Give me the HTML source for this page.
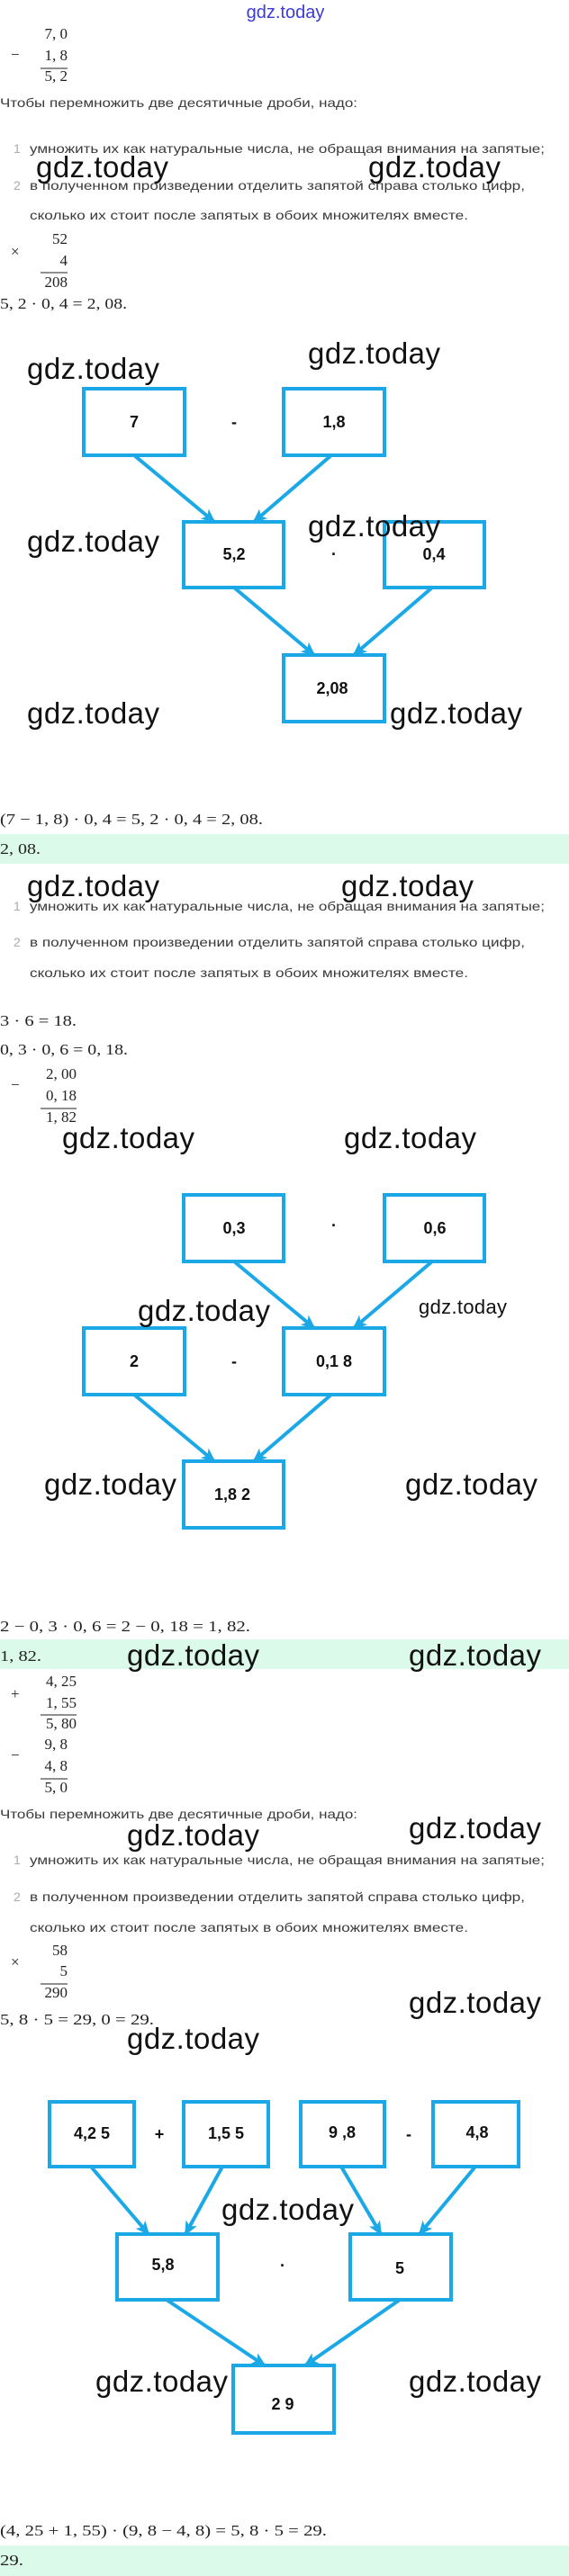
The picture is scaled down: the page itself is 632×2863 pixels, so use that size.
<!DOCTYPE html>
<html><head><meta charset="utf-8"><style>
html,body{margin:0;padding:0;background:#fff;width:632px;height:2863px;overflow:hidden}
svg{display:block}
.m{font-family:"Liberation Serif",serif;font-size:17px;fill:#222}
.r{font-family:"Liberation Sans","Noto Sans CJK SC",sans-serif;font-size:14px;fill:#3a3a3a}
.n{font-family:"Liberation Sans",sans-serif;font-size:14px;fill:#aaa}
.w{font-family:"Liberation Sans",sans-serif;font-size:33px;fill:#111}
.b{font-family:"Liberation Sans",sans-serif;font-size:18px;font-weight:bold;fill:#111;text-anchor:middle}
.o{font-family:"Liberation Sans",sans-serif;font-size:18px;font-weight:bold;fill:#111;text-anchor:middle}
rect.x{fill:#fff;stroke:#1ba8e6;stroke-width:4}
line.a{stroke:#1ba8e6;stroke-width:4;marker-end:url(#ah)}
</style></head><body>
<svg width="632" height="2863" viewBox="0 0 632 2863" xmlns="http://www.w3.org/2000/svg">
<defs><marker id="ah" markerUnits="userSpaceOnUse" markerWidth="16" markerHeight="14" refX="14" refY="7" orient="auto"><path d="M0,0 L16,7 L0,14 L4,7 z" fill="#1ba8e6"/></marker></defs>

<!-- green bands -->
<rect x="0" y="927" width="632" height="33" fill="#dcfaea"/>
<rect x="0" y="1822" width="632" height="33" fill="#dcfaea"/>
<rect x="0" y="2829" width="632" height="34" fill="#dcfaea"/>

<!-- Section 1 -->
<text x="317" y="20" font-family="Liberation Sans,sans-serif" font-size="20" fill="#3b3bd6" text-anchor="middle">gdz.today</text>
<text class="m" x="12" y="66">−</text>
<text class="m" x="75" y="43" text-anchor="end">7, 0</text>
<text class="m" x="75" y="67" text-anchor="end">1, 8</text>
<line x1="45" y1="76" x2="75" y2="76" stroke="#222" stroke-width="1"/>
<text class="m" x="75" y="90" text-anchor="end">5, 2</text>
<text class="r" x="0" y="119" textLength="397" lengthAdjust="spacingAndGlyphs">Чтобы перемножить две десятичные дроби, надо:</text>
<text class="n" x="15" y="170">1</text>
<text class="r" x="33" y="170" textLength="572" lengthAdjust="spacingAndGlyphs">умножить их как натуральные числа, не обращая внимания на запятые;</text>
<text class="n" x="15" y="211">2</text>
<text class="r" x="33" y="211" textLength="550" lengthAdjust="spacingAndGlyphs">в полученном произведении отделить запятой справа столько цифр,</text>
<text class="r" x="33" y="244" textLength="487" lengthAdjust="spacingAndGlyphs">сколько их стоит после запятых в обоих множителях вместе.</text>
<text class="w" x="40" y="197" textLength="147">gdz.today</text>
<text class="w" x="409" y="197" textLength="147">gdz.today</text>
<text class="m" x="12" y="285">×</text>
<text class="m" x="75" y="271" text-anchor="end">52</text>
<text class="m" x="75" y="295" text-anchor="end">4</text>
<line x1="45" y1="303" x2="75" y2="303" stroke="#222" stroke-width="1"/>
<text class="m" x="75" y="319" text-anchor="end">208</text>
<text class="m" x="0" y="343" textLength="141" lengthAdjust="spacingAndGlyphs">5, 2 · 0, 4 = 2, 08.</text>

<!-- Diagram 1 -->
<text class="w" x="30" y="421" textLength="147">gdz.today</text>
<text class="w" x="342" y="404" textLength="147">gdz.today</text>
<text class="w" x="30" y="613" textLength="147">gdz.today</text>
<text class="w" x="30" y="804" textLength="147">gdz.today</text>
<text class="w" x="433" y="804" textLength="147">gdz.today</text>
<line class="a" x1="149" y1="506" x2="238" y2="580"/>
<line class="a" x1="368" y1="506" x2="282" y2="580"/>
<line class="a" x1="260" y1="653" x2="349" y2="728"/>
<line class="a" x1="480" y1="653" x2="393" y2="728"/>
<rect class="x" x="93" y="432" width="112" height="74"/>
<rect class="x" x="315" y="432" width="112" height="74"/>
<rect class="x" x="204" y="580" width="111" height="73"/>
<rect class="x" x="427" y="580" width="111" height="73"/>
<rect class="x" x="315" y="728" width="112" height="74"/>
<text class="w" x="342" y="596" textLength="147">gdz.today</text>
<text class="b" x="149" y="475">7</text>
<text class="b" x="371" y="475">1,8</text>
<text class="b" x="260" y="622">5,2</text>
<text class="b" x="482" y="622">0,4</text>
<text class="b" x="369" y="771">2,08</text>
<text class="o" x="260" y="475">-</text>
<text class="o" x="371" y="622">·</text>

<!-- Section 2 -->
<text class="m" x="0" y="916" textLength="292" lengthAdjust="spacingAndGlyphs">(7 − 1, 8) · 0, 4 = 5, 2 · 0, 4 = 2, 08.</text>
<text class="m" x="0" y="949" textLength="45" lengthAdjust="spacingAndGlyphs">2, 08.</text>
<text class="w" x="30" y="996" textLength="147">gdz.today</text>
<text class="w" x="379" y="996" textLength="147">gdz.today</text>
<text class="n" x="15" y="1012">1</text>
<text class="r" x="33" y="1012" textLength="572" lengthAdjust="spacingAndGlyphs">умножить их как натуральные числа, не обращая внимания на запятые;</text>
<text class="n" x="15" y="1052">2</text>
<text class="r" x="33" y="1052" textLength="550" lengthAdjust="spacingAndGlyphs">в полученном произведении отделить запятой справа столько цифр,</text>
<text class="r" x="33" y="1086" textLength="487" lengthAdjust="spacingAndGlyphs">сколько их стоит после запятых в обоих множителях вместе.</text>
<text class="m" x="0" y="1140" textLength="85" lengthAdjust="spacingAndGlyphs">3 · 6 = 18.</text>
<text class="m" x="0" y="1172" textLength="142" lengthAdjust="spacingAndGlyphs">0, 3 · 0, 6 = 0, 18.</text>
<text class="m" x="12" y="1211">−</text>
<text class="m" x="85" y="1199" text-anchor="end">2, 00</text>
<text class="m" x="85" y="1223" text-anchor="end">0, 18</text>
<line x1="45" y1="1232" x2="85" y2="1232" stroke="#222" stroke-width="1"/>
<text class="m" x="85" y="1247" text-anchor="end">1, 82</text>

<!-- Diagram 2 -->
<text class="w" x="69" y="1276" textLength="147">gdz.today</text>
<text class="w" x="382" y="1276" textLength="147">gdz.today</text>
<line class="a" x1="260" y1="1402" x2="349" y2="1476"/>
<line class="a" x1="480" y1="1402" x2="393" y2="1476"/>
<line class="a" x1="149" y1="1550" x2="238" y2="1624"/>
<line class="a" x1="368" y1="1550" x2="282" y2="1624"/>
<rect class="x" x="204" y="1328" width="111" height="74"/>
<rect class="x" x="427" y="1328" width="111" height="74"/>
<rect class="x" x="93" y="1476" width="112" height="74"/>
<rect class="x" x="315" y="1476" width="112" height="74"/>
<rect class="x" x="204" y="1624" width="111" height="74"/>
<text class="w" x="153" y="1468" textLength="147">gdz.today</text>
<text x="465" y="1460" font-family="Liberation Sans,sans-serif" font-size="22" fill="#111" textLength="98">gdz.today</text>
<text class="w" x="49" y="1661" textLength="147">gdz.today</text>
<text class="w" x="450" y="1661" textLength="147">gdz.today</text>
<text class="b" x="260" y="1371">0,3</text>
<text class="b" x="483" y="1371">0,6</text>
<text class="b" x="149" y="1519">2</text>
<text class="b" x="371" y="1519">0,1 8</text>
<text class="b" x="258" y="1667">1,8 2</text>
<text class="o" x="371" y="1368">·</text>
<text class="o" x="260" y="1519">-</text>

<!-- Section 3 -->
<text class="m" x="0" y="1813" textLength="278" lengthAdjust="spacingAndGlyphs">2 − 0, 3 · 0, 6 = 2 − 0, 18 = 1, 82.</text>
<text class="m" x="0" y="1846" textLength="46" lengthAdjust="spacingAndGlyphs">1, 82.</text>
<text class="w" x="141" y="1851" textLength="147">gdz.today</text>
<text class="w" x="454" y="1851" textLength="147">gdz.today</text>
<text class="m" x="12" y="1888">+</text>
<text class="m" x="85" y="1874" text-anchor="end">4, 25</text>
<text class="m" x="85" y="1898" text-anchor="end">1, 55</text>
<line x1="45" y1="1906" x2="85" y2="1906" stroke="#222" stroke-width="1"/>
<text class="m" x="85" y="1921" text-anchor="end">5, 80</text>
<text class="m" x="12" y="1956">−</text>
<text class="m" x="75" y="1944" text-anchor="end">9, 8</text>
<text class="m" x="75" y="1968" text-anchor="end">4, 8</text>
<line x1="45" y1="1977" x2="75" y2="1977" stroke="#222" stroke-width="1"/>
<text class="m" x="75" y="1992" text-anchor="end">5, 0</text>
<text class="r" x="0" y="2021" textLength="397" lengthAdjust="spacingAndGlyphs">Чтобы перемножить две десятичные дроби, надо:</text>
<text class="w" x="141" y="2051" textLength="147">gdz.today</text>
<text class="w" x="454" y="2043" textLength="147">gdz.today</text>
<text class="n" x="15" y="2072">1</text>
<text class="r" x="33" y="2072" textLength="572" lengthAdjust="spacingAndGlyphs">умножить их как натуральные числа, не обращая внимания на запятые;</text>
<text class="n" x="15" y="2113">2</text>
<text class="r" x="33" y="2113" textLength="550" lengthAdjust="spacingAndGlyphs">в полученном произведении отделить запятой справа столько цифр,</text>
<text class="r" x="33" y="2147" textLength="487" lengthAdjust="spacingAndGlyphs">сколько их стоит после запятых в обоих множителях вместе.</text>
<text class="m" x="12" y="2186">×</text>
<text class="m" x="75" y="2173" text-anchor="end">58</text>
<text class="m" x="75" y="2196" text-anchor="end">5</text>
<line x1="45" y1="2205" x2="75" y2="2205" stroke="#222" stroke-width="1"/>
<text class="m" x="75" y="2220" text-anchor="end">290</text>
<text class="m" x="0" y="2250" textLength="171" lengthAdjust="spacingAndGlyphs">5, 8 · 5 = 29, 0 = 29.</text>
<text class="w" x="454" y="2237" textLength="147">gdz.today</text>
<text class="w" x="141" y="2277" textLength="147">gdz.today</text>

<!-- Diagram 3 -->
<line class="a" x1="101" y1="2408" x2="165" y2="2483"/>
<line class="a" x1="247" y1="2408" x2="206" y2="2483"/>
<line class="a" x1="379" y1="2408" x2="423" y2="2483"/>
<line class="a" x1="528" y1="2408" x2="466" y2="2483"/>
<line class="a" x1="185" y1="2556" x2="294" y2="2629"/>
<line class="a" x1="444" y1="2556" x2="339" y2="2629"/>
<rect class="x" x="55" y="2336" width="94" height="72"/>
<rect class="x" x="204" y="2336" width="94" height="72"/>
<rect class="x" x="334" y="2336" width="93" height="72"/>
<rect class="x" x="481" y="2336" width="95" height="72"/>
<rect class="x" x="130" y="2483" width="112" height="73"/>
<rect class="x" x="389" y="2483" width="112" height="73"/>
<rect class="x" x="259" y="2629" width="112" height="75"/>
<text class="w" x="246" y="2467" textLength="147">gdz.today</text>
<text class="w" x="106" y="2658" textLength="147">gdz.today</text>
<text class="w" x="454" y="2658" textLength="147">gdz.today</text>
<text class="b" x="102" y="2377">4,2 5</text>
<text class="b" x="251" y="2377">1,5 5</text>
<text class="b" x="380" y="2376">9 ,8</text>
<text class="b" x="530" y="2376">4,8</text>
<text class="b" x="181" y="2523">5,8</text>
<text class="b" x="444" y="2527">5</text>
<text class="b" x="314" y="2678">2 9</text>
<text class="o" x="177" y="2378">+</text>
<text class="o" x="454" y="2378">-</text>
<text class="o" x="314" y="2524">·</text>

<text class="m" x="0" y="2818" textLength="363" lengthAdjust="spacingAndGlyphs">(4, 25 + 1, 55) · (9, 8 − 4, 8) = 5, 8 · 5 = 29.</text>
<text class="m" x="0" y="2851" textLength="26" lengthAdjust="spacingAndGlyphs">29.</text>
</svg>
</body></html>
